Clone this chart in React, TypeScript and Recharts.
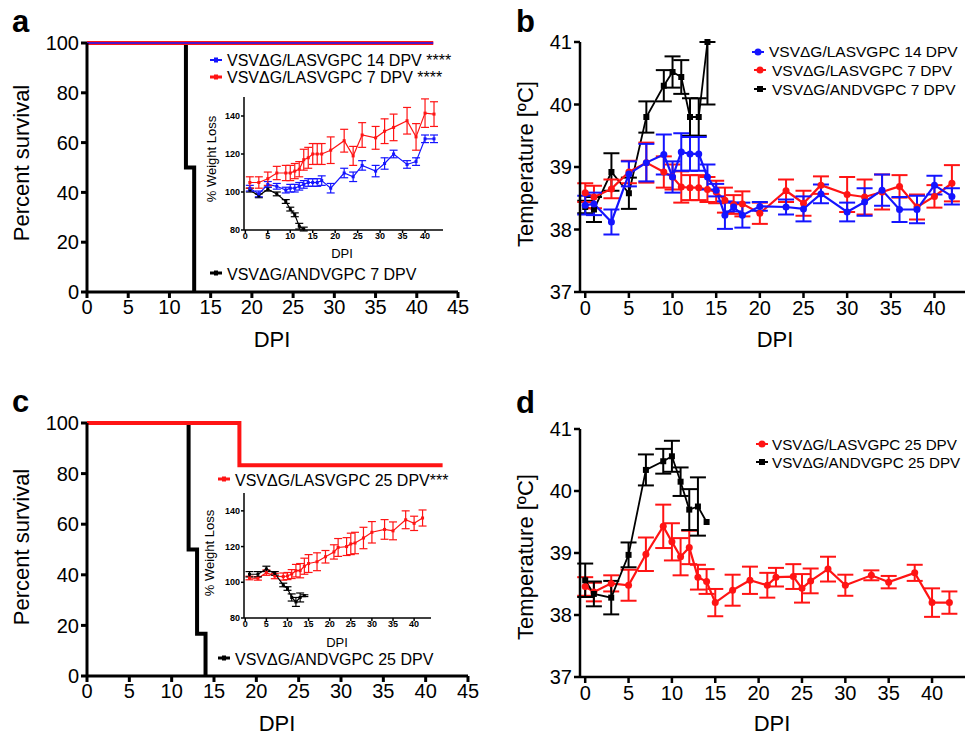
import React from "react";
import { LineChart, Line, XAxis, YAxis, ErrorBar } from "recharts";

const FONT = '"Liberation Sans", Arial, Helvetica, sans-serif';
const BLUE = "#1414ff";
const RED = "#ff1414";
const BLACK = "#000000";

// legend labels
const LAS14 = "VSVΔG/LASVGPC 14 DPV";
const LAS7 = "VSVΔG/LASVGPC 7 DPV";
const ANDV7 = "VSVΔG/ANDVGPC 7 DPV";
const LAS25 = "VSVΔG/LASVGPC 25 DPV";
const ANDV25 = "VSVΔG/ANDVGPC 25 DPV";

// ticks
const survXTicks = [0, 5, 10, 15, 20, 25, 30, 35, 40, 45];
const survYTicks = [0, 20, 40, 60, 80, 100];
const tempXTicks = [0, 5, 10, 15, 20, 25, 30, 35, 40];
const tempYTicks = [37, 38, 39, 40, 41];
const wtXTicks = [0, 5, 10, 15, 20, 25, 30, 35, 40];
const wtYTicks = [80, 100, 120, 140];

// panel a: survival
const survA14Days = [0, 42];
const survA14 = [100, 100];
const survA7Days = [0, 42];
const survA7 = [100, 100];
const survAAndvDays = [0, 12, 13];
const survAAndv = [100, 50, 0];

// panel a inset: weight
const wtADays = [1, 3, 5, 7, 9, 10, 11, 12, 13, 14, 15, 16, 17, 19, 22, 24, 26, 29, 31, 33, 36, 38, 40, 42];
const wtA7 = [105, 105, 107, 110, 110, 110, 111, 112, 117, 118, 120, 120, 120, 122, 127, 119, 130, 128.5, 132, 134, 137.5, 129, 141.5, 141];
const wtA7Err = [3, 3, 3.5, 3.5, 4, 4, 4, 4, 5.5, 5.5, 5.5, 5.5, 5.5, 7, 6, 5, 6.5, 6, 6.5, 7, 7, 7, 7.5, 6.5];
const wtA14 = [102, 99, 104, 103, 101, 102, 102, 103, 104, 105, 105, 105, 106, 102, 110, 108, 114, 111, 115, 120, 114.5, 116, 128, 128];
const wtA14Err = [1.5, 1.5, 1.5, 1.5, 1.5, 2, 2, 2, 2, 2, 2, 2, 2.5, 2.5, 2.5, 2.5, 2.5, 3, 3, 2, 2, 2, 2, 2];
const wtAAndvDays = [1, 3, 5, 7, 9, 10, 11, 12, 13];
const wtAAndv = [101, 98, 101.5, 99, 95, 91, 88, 82, 80.5];
const wtAAndvErr = [1, 1, 1, 1, 1, 1, 1, 1.5, 1];

// panel b: temperature
const tempBDays = [0, 1, 3, 5, 7, 9, 10, 11, 12, 13, 14, 15, 16, 17, 18, 20, 23, 25, 27, 30, 32, 34, 36, 38, 40, 42];
const tempB14 = [38.39, 38.41, 38.12, 38.89, 39.07, 39.2, 38.84, 39.24, 39.21, 39.21, 38.84, 38.63, 38.23, 38.36, 38.23, 38.37, 38.36, 38.33, 38.57, 38.28, 38.44, 38.63, 38.32, 38.32, 38.71, 38.53];
const tempB14Err = [0.15, 0.18, 0.2, 0.2, 0.3, 0.32, 0.25, 0.3, 0.27, 0.27, 0.2, 0.1, 0.22, 0.07, 0.2, 0.07, 0.12, 0.2, 0.15, 0.15, 0.22, 0.25, 0.2, 0.22, 0.15, 0.13];
const tempB7 = [38.59, 38.52, 38.65, 38.92, 39.07, 38.92, 38.84, 38.68, 38.67, 38.67, 38.64, 38.6, 38.47, 38.4, 38.41, 38.26, 38.62, 38.42, 38.71, 38.56, 38.52, 38.6, 38.69, 38.36, 38.53, 38.74];
const tempB7Err = [0.15, 0.18, 0.15, 0.18, 0.32, 0.25, 0.2, 0.25, 0.2, 0.2, 0.2, 0.18, 0.2, 0.15, 0.2, 0.17, 0.18, 0.2, 0.14, 0.28, 0.28, 0.28, 0.18, 0.2, 0.18, 0.29];
const tempBAndvDays = [0, 1, 3, 5, 7, 9, 10, 11, 12, 13, 14];
const tempBAndv = [38.36, 38.32, 38.92, 38.58, 39.8, 40.3, 40.52, 40.44, 39.8, 39.8, 41];
const tempBAndvErr: (number | number[])[] = [0.1, 0.2, 0.3, 0.25, 0.25, 0.25, 0.25, 0.27, 0.3, 0.3, [1, 0]];

// panel c: survival
const survC25Days = [0, 18, 42];
const survC25 = [100, 83.3, 83.3];
const survCAndvDays = [0, 12, 13, 14];
const survCAndv = [100, 50, 16.7, 0];

// panel c inset: weight
const wtCDays = [1, 3, 5, 7, 9, 10, 11, 12, 13, 14, 15, 17, 19, 21, 22, 24, 25, 26, 28, 30, 33, 35, 38, 40, 42];
const wtC25 = [102.4, 102.2, 105.4, 103.5, 103.2, 103.5, 104.6, 106.5, 106.5, 109, 110.5, 111.5, 114.3, 117, 119.5, 120, 121.5, 122, 124.8, 128, 129.6, 128.8, 135, 133, 136];
const wtC25Err = [1, 1, 1.5, 1.5, 2, 2, 2.5, 3.5, 4, 4.5, 5, 5, 3.5, 4, 5, 5, 6, 6, 6, 6, 5.5, 5, 5, 4, 4.5];
const wtCAndvDays = [1, 3, 5, 7, 9, 10, 11, 12, 13, 14];
const wtCAndv = [104.5, 104.5, 107.5, 105, 98.5, 96.5, 91.5, 89, 91.5, 92.5];
const wtCAndvErr = [1.5, 1.5, 1.5, 1, 1, 1, 2, 2.5, 2.5, 0.5];

// panel d: temperature
const tempDDays = [0, 1, 3, 5, 7, 9, 10, 11, 12, 13, 14, 15, 17, 19, 21, 22, 24, 25, 26, 28, 30, 33, 35, 38, 40, 42];
const tempD25 = [38.46, 38.37, 38.51, 38.48, 38.98, 39.43, 39.18, 38.94, 39.09, 38.61, 38.54, 38.2, 38.4, 38.56, 38.48, 38.61, 38.62, 38.43, 38.55, 38.74, 38.48, 38.64, 38.53, 38.68, 38.2, 38.2];
const tempD25Err = [0.15, 0.15, 0.13, 0.25, 0.27, 0.35, 0.3, 0.3, 0.27, 0.2, 0.2, 0.22, 0.25, 0.22, 0.2, 0.15, 0.2, 0.23, 0.2, 0.2, 0.17, 0.08, 0.1, 0.13, 0.23, 0.18];
const tempDAndvDays = [0, 1, 3, 5, 7, 9, 10, 11, 12, 13, 14];
const tempDAndv = [38.56, 38.34, 38.28, 38.97, 40.34, 40.48, 40.56, 40.15, 39.7, 39.75, 39.5];
const tempDAndvErr = [0.27, 0.2, 0.27, 0.2, 0.25, 0.2, 0.25, 0.23, 0.33, 0.47, 0];

type Row = { x: number; y: number; e?: number | number[] };
const rows = (xs: number[], ys: number[], es?: (number | number[])[]): Row[] =>
  xs.map((x, i) => ({ x, y: ys[i], e: es ? es[i] : undefined }));

type Series = {
  key: string;
  data: Row[];
  color: string;
  width: number;
  step?: boolean;
  dot?: "circle" | "square";
  dotSize?: number;
  errW?: number;
  errS?: number;
};

function makeDot(s: Series) {
  if (!s.dot) return false;
  const size = s.dotSize ?? 4;
  return (props: any) => {
    const { cx, cy, index } = props;
    const k = `${s.key}-${index}`;
    if (cx == null || cy == null) return <g key={k} />;
    return s.dot === "square" ? (
      <rect key={k} x={cx - size / 2} y={cy - size / 2} width={size} height={size} fill={s.color} />
    ) : (
      <circle key={k} cx={cx} cy={cy} r={size / 2} fill={s.color} />
    );
  };
}

type PlotProps = {
  left: number;
  top: number;
  width: number;
  height: number;
  margin: { top: number; right: number; bottom: number; left: number };
  yw: number;
  xh: number;
  xDomain: [number, number];
  xTicks: number[];
  yDomain: [number, number];
  yTicks: number[];
  font: number;
  bold?: boolean;
  axisW: number;
  tickSize: number;
  xTickMargin: number;
  yTickMargin: number;
  clip?: boolean;
  series: Series[];
};

function Plot(p: PlotProps) {
  const tick = { fontSize: p.font, fontWeight: p.bold ? 700 : 400, fill: "#000", fontFamily: FONT };
  const line = { stroke: "#000", strokeWidth: p.axisW };
  return (
    <div style={{ position: "absolute", left: p.left, top: p.top }}>
      <LineChart width={p.width} height={p.height} margin={p.margin}>
        <XAxis
          type="number"
          dataKey="x"
          domain={p.xDomain}
          ticks={p.xTicks}
          interval={0}
          allowDataOverflow={!!p.clip}
          height={p.xh}
          tick={tick}
          tickSize={p.tickSize}
          tickMargin={p.xTickMargin}
          axisLine={line}
          tickLine={line}
        />
        <YAxis
          type="number"
          dataKey="y"
          domain={p.yDomain}
          ticks={p.yTicks}
          interval={0}
          allowDataOverflow={!!p.clip}
          width={p.yw}
          tick={tick}
          tickSize={p.tickSize}
          tickMargin={p.yTickMargin}
          axisLine={line}
          tickLine={line}
        />
        {p.series.map((s) => (
          <Line
            key={s.key}
            data={s.data}
            dataKey="y"
            type={s.step ? "stepAfter" : "linear"}
            stroke={s.color}
            strokeWidth={s.width}
            dot={makeDot(s)}
            activeDot={false}
            isAnimationActive={false}
          >
            {s.errW ? (
              <ErrorBar dataKey="e" direction="y" width={s.errW} stroke={s.color} strokeWidth={s.errS ?? 1.5} />
            ) : null}
          </Line>
        ))}
      </LineChart>
    </div>
  );
}

const mainAxis = { font: 20, axisW: 3, tickSize: 6, xTickMargin: 2, yTickMargin: 2 };
const tempAxis = { font: 20, axisW: 2.5, tickSize: 6, xTickMargin: 3, yTickMargin: 2 };
const insetAxis = { font: 9, bold: true, axisW: 1.5, tickSize: 3, xTickMargin: 0, yTickMargin: 1, clip: true };

function LegendMark({ x, y, color, kind, w = 12, lw = 3 }: { x: number; y: number; color: string; kind: "bar" | "circle" | "square"; w?: number; lw?: number }) {
  return (
    <g>
      <line x1={x} y1={y} x2={x + w} y2={y} stroke={color} strokeWidth={lw} />
      {kind === "circle" && <circle cx={x + w / 2} cy={y} r={3.5} fill={color} />}
      {kind === "square" && <rect x={x + w / 2 - 3} y={y - 3} width={6} height={6} fill={color} />}
      {kind === "bar" && <rect x={x + w / 2 - 2} y={y - 2.5} width={4} height={5} fill={color} />}
    </g>
  );
}

function Overlay() {
  const vt = (x: number, y: number, size: number, s: string, key: string) => (
    <text key={key} transform={`translate(${x},${y}) rotate(-90)`} textAnchor="middle" fontSize={size}>
      {s}
    </text>
  );
  return (
    <svg
      width={966}
      height={737}
      style={{ position: "absolute", left: 0, top: 0, pointerEvents: "none" }}
      fontFamily={FONT}
      fill="#000"
    >
      {/* panel letters */}
      <text x={12} y={32} fontSize={31} fontWeight={700}>a</text>
      <text x={516} y={32} fontSize={31} fontWeight={700}>b</text>
      <text x={12} y={412} fontSize={31} fontWeight={700}>c</text>
      <text x={516} y={413} fontSize={31} fontWeight={700}>d</text>

      {/* axis titles */}
      {vt(29, 163, 22, "Percent survival", "ya")}
      {vt(29, 547, 22, "Percent survival", "yc")}
      {vt(533, 164, 22, "Temperature [ºC]", "yb")}
      {vt(533, 557, 22, "Temperature [ºC]", "yd")}
      <text x={272} y={347} fontSize={22} textAnchor="middle">DPI</text>
      <text x={775} y={347} fontSize={22} textAnchor="middle">DPI</text>
      <text x={277} y={731} fontSize={22} textAnchor="middle">DPI</text>
      <text x={772} y={731} fontSize={22} textAnchor="middle">DPI</text>

      {/* inset titles */}
      {vt(216, 159, 13, "% Weight Loss", "wa")}
      {vt(214, 553, 13, "% Weight Loss", "wc")}
      <text x={342} y={258} fontSize={13} textAnchor="middle">DPI</text>
      <text x={337} y={647} fontSize={13} textAnchor="middle">DPI</text>

      {/* legend a */}
      <LegendMark x={210} y={60} color={BLUE} kind="bar" lw={2} />
      <text x={227} y={66} fontSize={16}>{LAS14 + " ****"}</text>
      <LegendMark x={210} y={77} color={RED} kind="bar" lw={3} />
      <text x={227} y={83} fontSize={16}>{LAS7 + " ****"}</text>
      <LegendMark x={210} y={273} color={BLACK} kind="bar" lw={3} />
      <text x={227} y={280} fontSize={16}>{ANDV7}</text>

      {/* legend b */}
      <LegendMark x={752} y={52} color={BLUE} kind="circle" lw={2} />
      <text x={769} y={57} fontSize={15.5}>{LAS14}</text>
      <LegendMark x={754} y={70} color={RED} kind="circle" lw={2} />
      <text x={772} y={76} fontSize={15.5}>{LAS7}</text>
      <LegendMark x={754} y={89} color={BLACK} kind="square" lw={2} />
      <text x={772} y={95} fontSize={15.5}>{ANDV7}</text>

      {/* legend c */}
      <LegendMark x={218} y={479} color={RED} kind="bar" lw={3} />
      <text x={235} y={486} fontSize={16}>{LAS25 + "***"}</text>
      <LegendMark x={218} y={658} color={BLACK} kind="bar" lw={3} />
      <text x={235} y={665} fontSize={16}>{ANDV25}</text>

      {/* legend d */}
      <LegendMark x={756} y={444} color={RED} kind="circle" lw={2} />
      <text x={772} y={450} fontSize={15.2}>{LAS25}</text>
      <LegendMark x={756} y={462} color={BLACK} kind="square" lw={2} />
      <text x={772} y={468} fontSize={15.2}>{ANDV25}</text>
    </svg>
  );
}

export default function App() {
  return (
    <div style={{ position: "absolute", left: 0, top: 0, width: 966, height: 737, background: "#fff", fontFamily: FONT }}>
      {/* a: survival */}
      <Plot
        left={0}
        top={0}
        width={480}
        height={360}
        margin={{ top: 43, right: 22, bottom: 28, left: 27 }}
        yw={60}
        xh={40}
        xDomain={[0, 45]}
        xTicks={survXTicks}
        yDomain={[0, 100]}
        yTicks={survYTicks}
        {...mainAxis}
        series={[
          { key: "aAndv", data: rows(survAAndvDays, survAAndv), color: BLACK, width: 4, step: true },
          { key: "a7", data: rows(survA7Days, survA7), color: RED, width: 4, step: true },
          { key: "a14", data: rows(survA14Days, survA14), color: BLUE, width: 1.5, step: true },
        ]}
      />
      {/* a: weight inset */}
      <Plot
        left={190}
        top={85}
        width={260}
        height={175}
        margin={{ top: 12, right: 7, bottom: 12, left: 24 }}
        yw={30}
        xh={18}
        xDomain={[-0.3, 44]}
        xTicks={wtXTicks}
        yDomain={[80, 150]}
        yTicks={wtYTicks}
        {...insetAxis}
        series={[
          { key: "waAndv", data: rows(wtAAndvDays, wtAAndv, wtAAndvErr), color: BLACK, width: 1.2, dot: "square", dotSize: 3, errW: 4, errS: 1.2 },
          { key: "wa14", data: rows(wtADays, wtA14, wtA14Err), color: BLUE, width: 1.2, dot: "square", dotSize: 3, errW: 4, errS: 1.2 },
          { key: "wa7", data: rows(wtADays, wtA7, wtA7Err), color: RED, width: 1.2, dot: "square", dotSize: 3, errW: 4, errS: 1.2 },
        ]}
      />
      {/* b: temperature */}
      <Plot
        left={480}
        top={0}
        width={486}
        height={360}
        margin={{ top: 42, right: 1, bottom: 28, left: 50 }}
        yw={50}
        xh={40}
        xDomain={[-0.6, 43.5]}
        xTicks={tempXTicks}
        yDomain={[37, 41]}
        yTicks={tempYTicks}
        {...tempAxis}
        series={[
          { key: "bAndv", data: rows(tempBAndvDays, tempBAndv, tempBAndvErr), color: BLACK, width: 1.8, dot: "square", dotSize: 6, errW: 8, errS: 2 },
          { key: "b7", data: rows(tempBDays, tempB7, tempB7Err), color: RED, width: 2.2, dot: "circle", dotSize: 7, errW: 8, errS: 2 },
          { key: "b14", data: rows(tempBDays, tempB14, tempB14Err), color: BLUE, width: 2.2, dot: "circle", dotSize: 7, errW: 8, errS: 2 },
        ]}
      />
      {/* c: survival */}
      <Plot
        left={0}
        top={370}
        width={480}
        height={367}
        margin={{ top: 53, right: 12, bottom: 21, left: 27 }}
        yw={60}
        xh={40}
        xDomain={[0, 45]}
        xTicks={survXTicks}
        yDomain={[0, 100]}
        yTicks={survYTicks}
        {...mainAxis}
        series={[
          { key: "cAndv", data: rows(survCAndvDays, survCAndv), color: BLACK, width: 4, step: true },
          { key: "c25", data: rows(survC25Days, survC25), color: RED, width: 4, step: true },
        ]}
      />
      {/* c: weight inset */}
      <Plot
        left={190}
        top={480}
        width={260}
        height={160}
        margin={{ top: 13, right: 19, bottom: 4, left: 24 }}
        yw={30}
        xh={18}
        xDomain={[-0.3, 44]}
        xTicks={wtXTicks}
        yDomain={[80, 150]}
        yTicks={wtYTicks}
        {...insetAxis}
        series={[
          { key: "wc25", data: rows(wtCDays, wtC25, wtC25Err), color: RED, width: 1.2, dot: "square", dotSize: 3, errW: 4, errS: 1.2 },
          { key: "wcAndv", data: rows(wtCAndvDays, wtCAndv, wtCAndvErr), color: BLACK, width: 1.2, dot: "square", dotSize: 3, errW: 4, errS: 1.2 },
        ]}
      />
      {/* d: temperature */}
      <Plot
        left={480}
        top={370}
        width={486}
        height={367}
        margin={{ top: 59, right: 1, bottom: 20, left: 50 }}
        yw={50}
        xh={40}
        xDomain={[-0.6, 43.8]}
        xTicks={tempXTicks}
        yDomain={[37, 41]}
        yTicks={tempYTicks}
        {...tempAxis}
        series={[
          { key: "d25", data: rows(tempDDays, tempD25, tempD25Err), color: RED, width: 2.2, dot: "circle", dotSize: 7, errW: 8, errS: 2 },
          { key: "dAndv", data: rows(tempDAndvDays, tempDAndv, tempDAndvErr), color: BLACK, width: 1.8, dot: "square", dotSize: 6, errW: 8, errS: 2 },
        ]}
      />
      <Overlay />
    </div>
  );
}
